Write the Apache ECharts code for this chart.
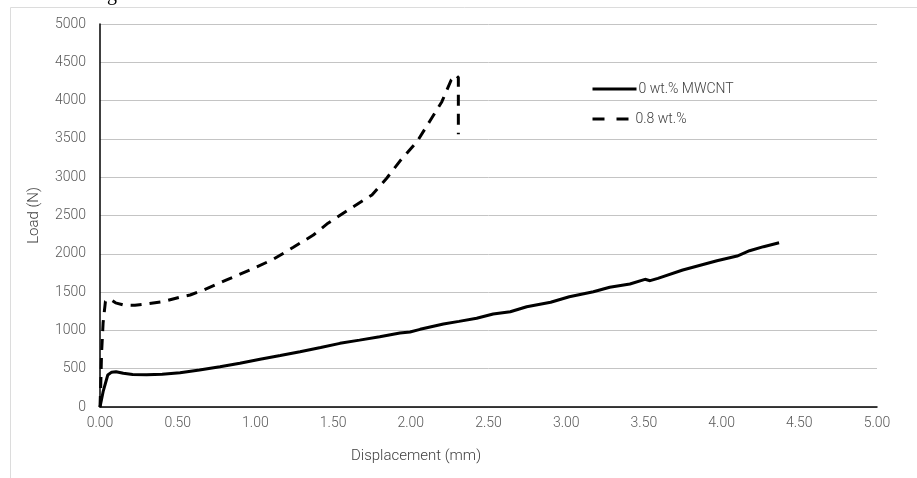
<!DOCTYPE html>
<html>
<head>
<meta charset="utf-8">
<script src="https://cdn.jsdelivr.net/npm/echarts@6/dist/echarts.min.js"></script>
<style>html,body{margin:0;padding:0;background:#fff}#c{width:917px;height:478px}</style>
</head>
<body>
<div id="c"></div>
<script>
// Series 1: 0 wt.% MWCNT
var disp0 = [0, 0.02, 0.05, 0.075, 0.103, 0.15, 0.21, 0.3, 0.4, 0.515, 0.64, 0.772, 0.9, 1.03, 1.16, 1.287, 1.42, 1.544, 1.67, 1.80, 1.93, 1.995, 2.06, 2.21, 2.31, 2.424, 2.53, 2.64, 2.746, 2.90, 3.02, 3.175, 3.28, 3.41, 3.507, 3.54, 3.59, 3.75, 3.97, 4.10, 4.18, 4.27, 4.37];
var load0 = [0, 200, 418, 455, 461, 440, 425, 420, 428, 448, 483, 526, 572, 623, 672, 722, 776, 831, 873, 918, 966, 980, 1014, 1084, 1118, 1158, 1214, 1244, 1309, 1367, 1440, 1505, 1563, 1606, 1667, 1649, 1680, 1788, 1910, 1971, 2040, 2093, 2145];
// Series 2: 0.8 wt.%
var disp1 = [0, 0.005, 0.01, 0.02, 0.035, 0.05, 0.07, 0.1, 0.15, 0.225, 0.3, 0.405, 0.525, 0.58, 0.665, 0.815, 0.965, 1.115, 1.244, 1.373, 1.467, 1.63, 1.75, 1.845, 1.93, 2.04, 2.12, 2.20, 2.26, 2.29, 2.306, 2.306];
var load1 = [0, 300, 700, 1100, 1380, 1405, 1400, 1360, 1332, 1328, 1345, 1375, 1440, 1462, 1527, 1658, 1789, 1928, 2085, 2245, 2400, 2615, 2768, 2986, 3210, 3464, 3724, 3986, 4269, 4334, 4300, 3560];
var seriesNames = ['0 wt.% MWCNT', '0.8 wt.%'];
var xTitle = 'Displacement (mm)';
var yTitle = 'Load (N)';

function pairs(xs, ys){ return xs.map(function(x,i){ return [x, ys[i]]; }); }

var FONT = 'Roboto';
var legendText = {fontFamily:FONT, fontWeight:300, fontSize:14, color:'#404040'};
var chart = echarts.init(document.getElementById('c'), null, {renderer:'canvas'});
chart.setOption({
  animation: false,
  backgroundColor: '#fff',
  graphic: [
    {type:'rect', left:8, top:5, z:-1, silent:true, shape:{width:1000, height:1000}, style:{fill:'none', stroke:'#dcdcdc', lineWidth:1}},
    {type:'text', left:107, top:-15, style:{text:'g', font:'20px "Liberation Serif"', fill:'#000'}}
  ],
  grid: {left:100, right:40, top:24, bottom:71, containLabel:false},
  legend: [
    {left:586, top:77, itemWidth:44, itemHeight:4, data:[seriesNames[0]],
     itemStyle:{opacity:0}, lineStyle:{width:3},
     textStyle:Object.assign({padding:[0,0,0,-3]}, legendText)},
    {left:586, top:107, itemWidth:37, itemHeight:4, data:[seriesNames[1]],
     itemStyle:{opacity:0}, lineStyle:{width:3, type:[12,12]},
     textStyle:Object.assign({padding:[0,0,0,1]}, legendText)}
  ],
  xAxis: {
    type:'value', min:0, max:5, interval:0.5,
    name: xTitle, nameLocation:'middle', nameGap:42,
    nameTextStyle:{fontFamily:FONT, fontWeight:300, fontSize:15, color:'#404040', padding:[0,145,0,0]},
    axisLine:{show:true, onZero:false, lineStyle:{color:'#000', width:1.5}},
    axisTick:{show:false},
    splitLine:{show:false},
    axisLabel:{fontFamily:FONT, fontWeight:300, fontSize:14, color:'#595959', margin:9, formatter:function(v){return v.toFixed(2);}}
  },
  yAxis: {
    type:'value', min:0, max:5000, interval:500,
    name: yTitle, nameLocation:'middle', nameGap:58, nameRotate:90,
    nameTextStyle:{fontFamily:FONT, fontWeight:300, fontSize:15, color:'#404040'},
    axisLine:{show:true, lineStyle:{color:'#000', width:1.5}},
    axisTick:{show:false},
    splitLine:{show:true, lineStyle:{color:'#c4c4c4', width:1}},
    axisLabel:{fontFamily:FONT, fontWeight:300, fontSize:14, color:'#595959', margin:14, formatter:function(v){return String(v);}}
  },
  series: [
    {name:seriesNames[0], type:'line', data:pairs(disp0, load0), showSymbol:false, symbol:'none', smooth:false,
     lineStyle:{color:'#000', width:3}, itemStyle:{color:'#000'}},
    {name:seriesNames[1], type:'line', data:pairs(disp1, load1), showSymbol:false, symbol:'none', smooth:false,
     lineStyle:{color:'#000', width:3, type:[11,8]}, itemStyle:{color:'#000'}}
  ]
});
</script>
</body>
</html>
